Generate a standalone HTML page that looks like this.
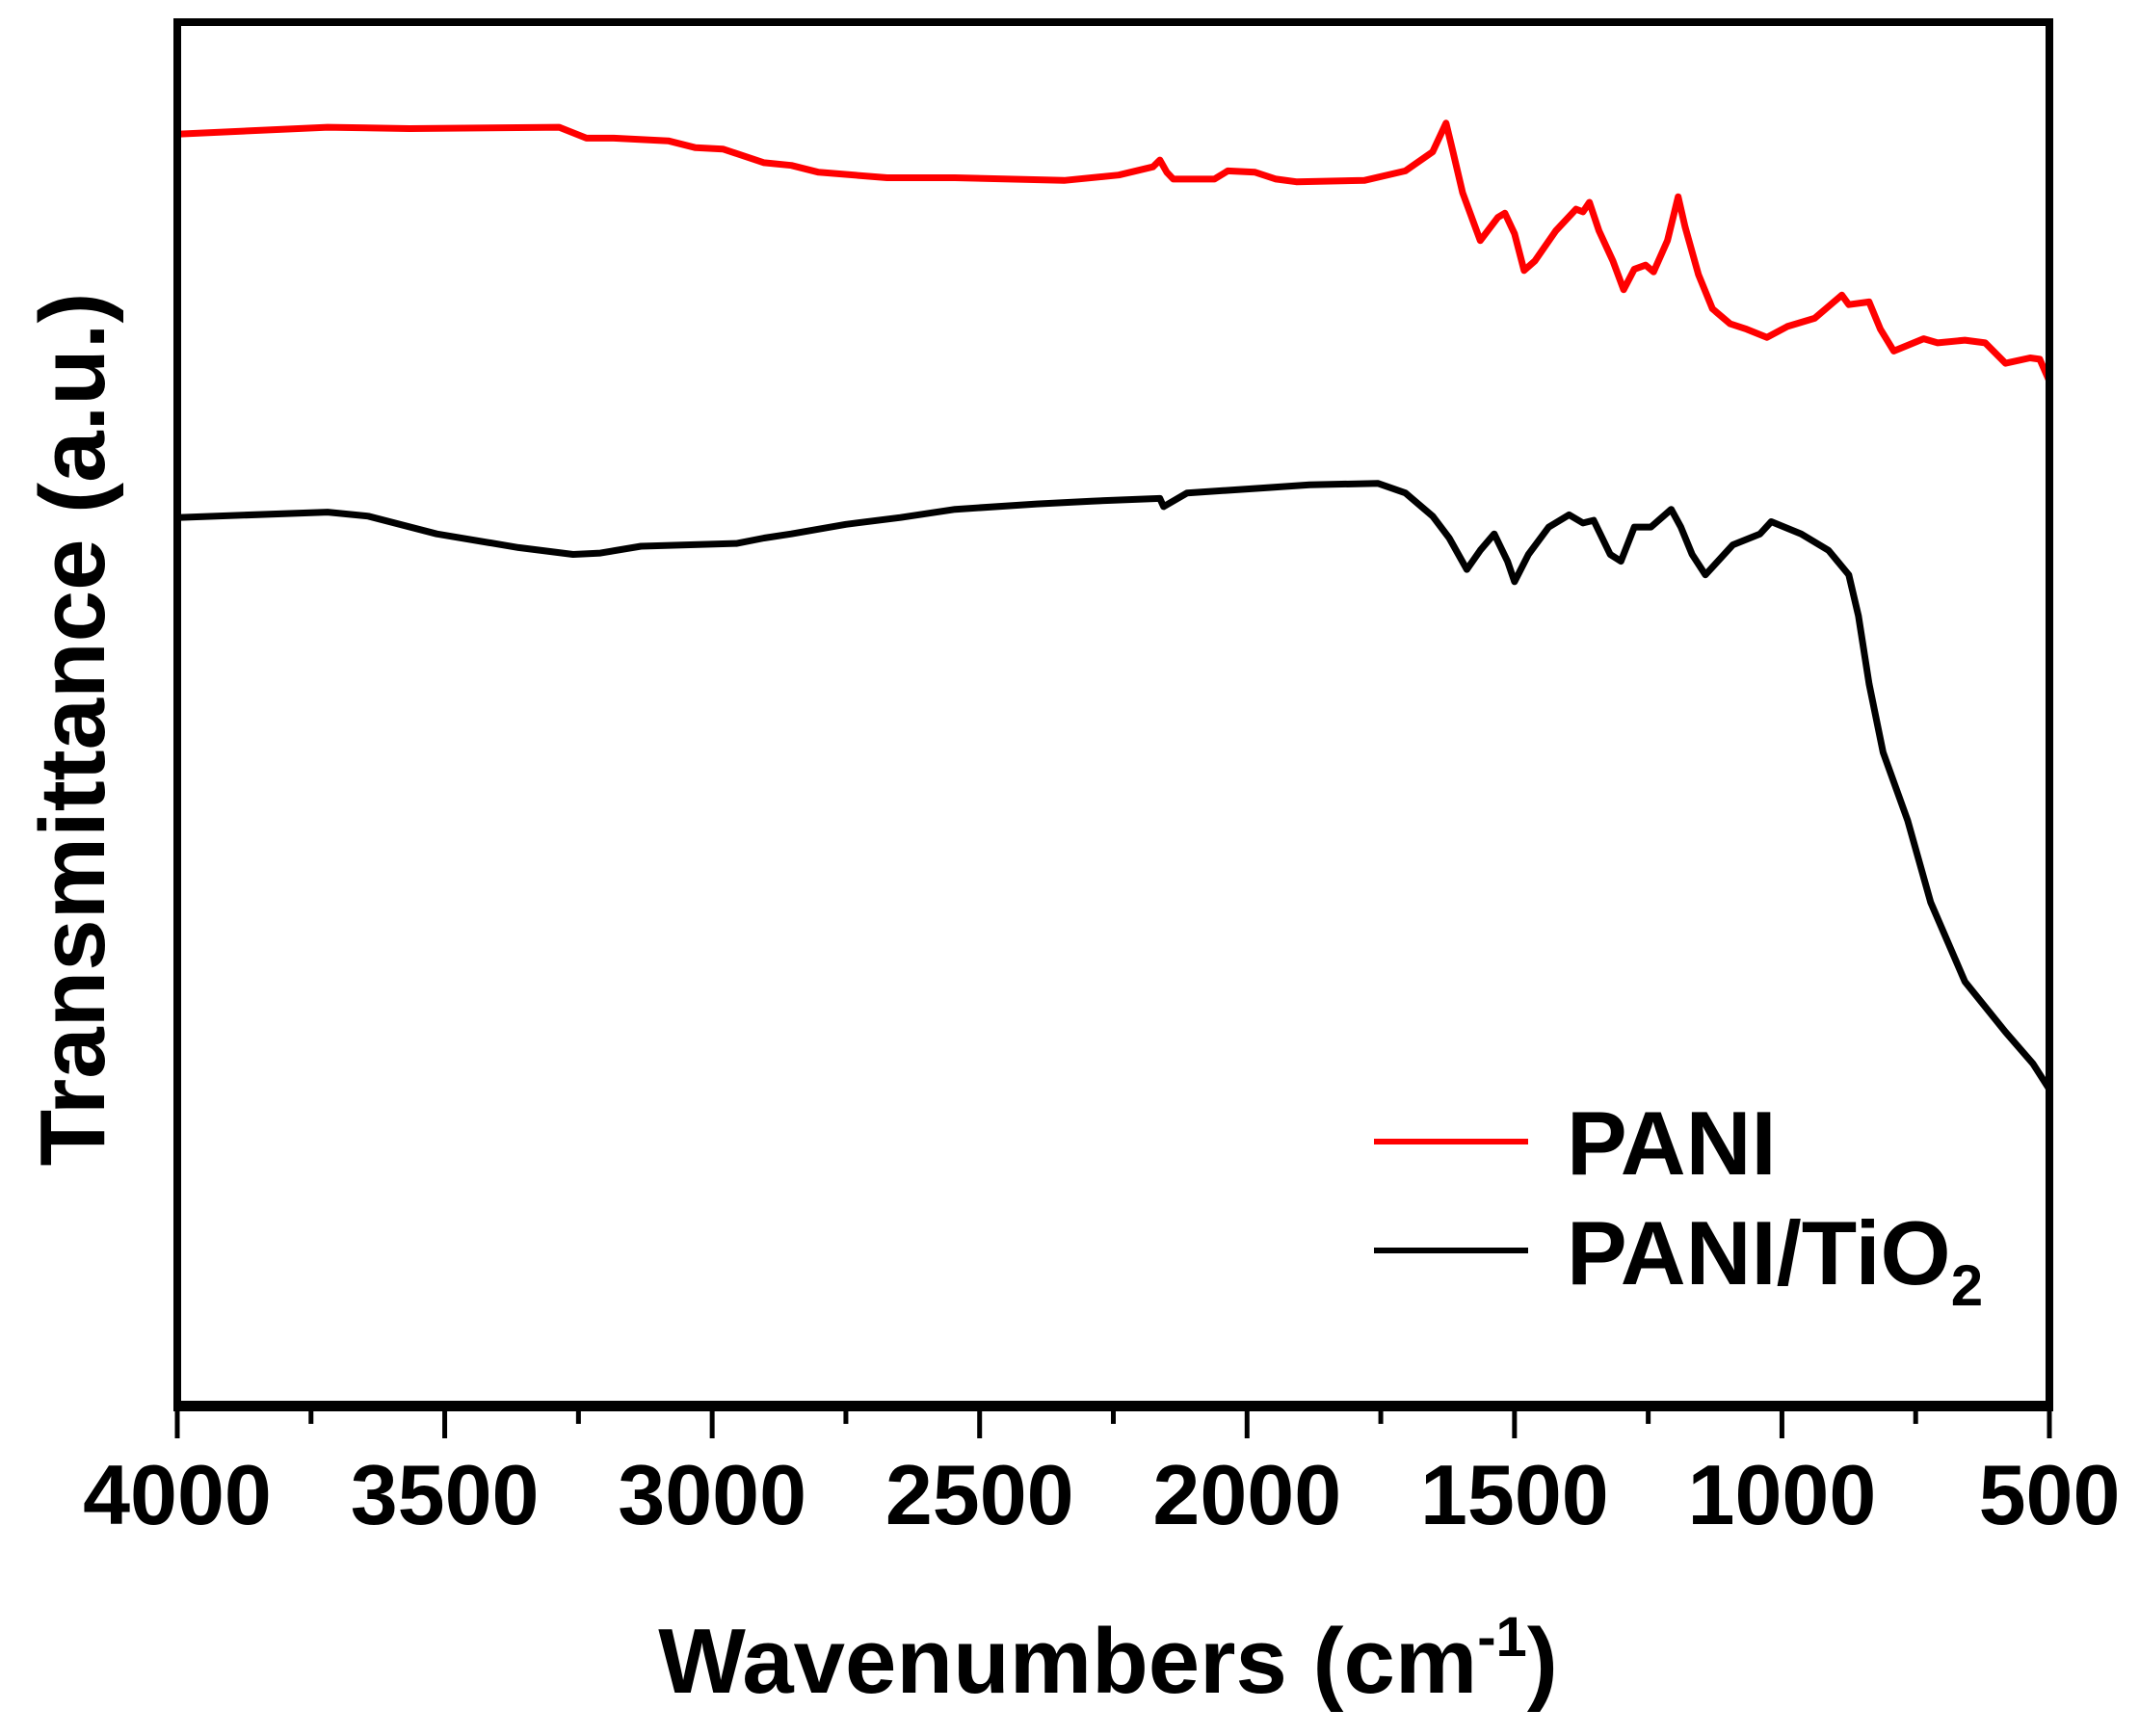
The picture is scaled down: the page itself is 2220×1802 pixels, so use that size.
<!DOCTYPE html>
<html><head><meta charset="utf-8"><style>
html,body{margin:0;padding:0;background:#fff;}
svg{display:block;}
text{font-family:"Liberation Sans",Arial,sans-serif;font-weight:bold;fill:#000;}
</style></head><body>
<svg id="chart" width="2220" height="1802" viewBox="0 0 2220 1802" xmlns="http://www.w3.org/2000/svg">
<g id="series"></g>
<rect x="184" y="23" width="1943" height="1435" fill="none" stroke="#000" stroke-width="8"/>
<line x1="180" y1="1460" x2="2131" y2="1460" stroke="#000" stroke-width="10"/>
<g id="ticks"></g>
<text x="1150" y="1757" font-size="96" text-anchor="middle">Wavenumbers (cm<tspan dy="-38" font-size="58">-1</tspan><tspan dy="38">)</tspan></text>
<text transform="translate(108,757) rotate(-90)" font-size="96" text-anchor="middle">Transmittance (a.u.)</text>
<g>
<line x1="1426" y1="1185" x2="1586" y2="1185" stroke="#ff0000" stroke-width="6"/>
<text x="1626" y="1219" font-size="94">PANI</text>
<line x1="1426" y1="1298" x2="1586" y2="1298" stroke="#000" stroke-width="6"/>
<text x="1626" y="1333" font-size="94">PANI/TiO<tspan dy="22" font-size="60">2</tspan></text>
</g>
</svg>
<script>
const xTicks=[4000,3500,3000,2500,2000,1500,1000,500];
const xMinorTicks=[3750,3250,2750,2250,1750,1250,750];
const paniX=[4000,3719,3566,3286,3235,3184,3082,3031,2980,2903,2852,2801,2673,2546,2342,2240,2176,2163,2150,2138,2061,2036,1985,1946,1908,1781,1704,1653,1628,1615,1597,1564,1531,1518,1500,1482,1462,1423,1385,1372,1360,1342,1316,1296,1276,1255,1240,1214,1194,1181,1156,1130,1097,1066,1028,990,939,888,875,837,816,791,735,709,658,620,582,536,518,500];
const paniY=[93.1,93.6,93.5,93.6,92.8,92.8,92.6,92.1,92.0,91.0,90.8,90.3,89.9,89.9,89.7,90.1,90.7,91.2,90.3,89.8,89.8,90.4,90.3,89.8,89.6,89.7,90.4,91.8,93.9,91.8,88.8,85.3,87.0,87.3,85.8,83.1,83.8,86.0,87.6,87.4,88.1,86.0,83.8,81.7,83.2,83.5,83.0,85.3,88.5,86.3,82.8,80.3,79.2,78.8,78.2,79.0,79.6,81.3,80.6,80.8,78.8,77.2,78.1,77.8,78.0,77.8,76.3,76.7,76.6,75.0];
const tiO2X=[4000,3719,3643,3515,3362,3260,3209,3133,2954,2903,2852,2750,2648,2546,2393,2291,2163,2156,2112,1959,1883,1755,1704,1653,1622,1589,1564,1538,1513,1500,1474,1436,1398,1372,1352,1321,1301,1276,1245,1207,1189,1168,1143,1092,1041,1020,964,913,875,857,837,811,765,722,658,582,531,500];
const tiO2Y=[65.0,65.4,65.1,63.8,62.8,62.3,62.4,62.9,63.1,63.5,63.8,64.5,65.0,65.6,66.0,66.2,66.4,65.8,66.8,67.2,67.4,67.5,66.8,65.1,63.5,61.2,62.6,63.8,61.8,60.3,62.3,64.3,65.2,64.6,64.8,62.3,61.8,64.3,64.3,65.6,64.3,62.3,60.8,63.0,63.8,64.7,63.8,62.6,60.8,57.8,52.8,47.8,42.8,36.8,31.0,27.3,25.0,23.1];
const X0=184,X1=2127,Y0=1458,Y1=23;
function sx(v){return X0+(4000-v)/3500*(X1-X0);}
function sy(v){return Y0-v/101.3*(Y0-Y1);}
const NS="http://www.w3.org/2000/svg";
const sg=document.getElementById('series');
function drawLine(xs,ys,color,name){
  const p=document.createElementNS(NS,'path');
  
  
  p.setAttribute('d',xs.map((x,i)=>(i?'L':'M')+sx(x).toFixed(1)+','+sy(ys[i]).toFixed(1)).join(''));
  p.setAttribute('fill','none');p.setAttribute('stroke',color);p.setAttribute('stroke-width','7');
  p.setAttribute('stroke-linejoin','round');
  sg.appendChild(p);
}
drawLine(paniX,paniY,'#ff0000','pani-line');
drawLine(tiO2X,tiO2Y,'#000000','pani-tio2-line');
const tg=document.getElementById('ticks');
xTicks.forEach(v=>{
  const l=document.createElementNS(NS,'line');
  
  
  l.setAttribute('x1',sx(v));l.setAttribute('x2',sx(v));l.setAttribute('y1',1458);l.setAttribute('y2',1493);
  l.setAttribute('stroke','#000');l.setAttribute('stroke-width','5');tg.appendChild(l);
  const t=document.createElementNS(NS,'text');
  
  
  t.setAttribute('x',sx(v));t.setAttribute('y',1582);t.setAttribute('font-size','88');t.setAttribute('text-anchor','middle');
  t.textContent=v;tg.appendChild(t);
});
xMinorTicks.forEach(v=>{
  const l=document.createElementNS(NS,'line');
  
  
  l.setAttribute('x1',sx(v));l.setAttribute('x2',sx(v));l.setAttribute('y1',1458);l.setAttribute('y2',1478);
  l.setAttribute('stroke','#000');l.setAttribute('stroke-width','5');tg.appendChild(l);
});
</script>
</body></html>
